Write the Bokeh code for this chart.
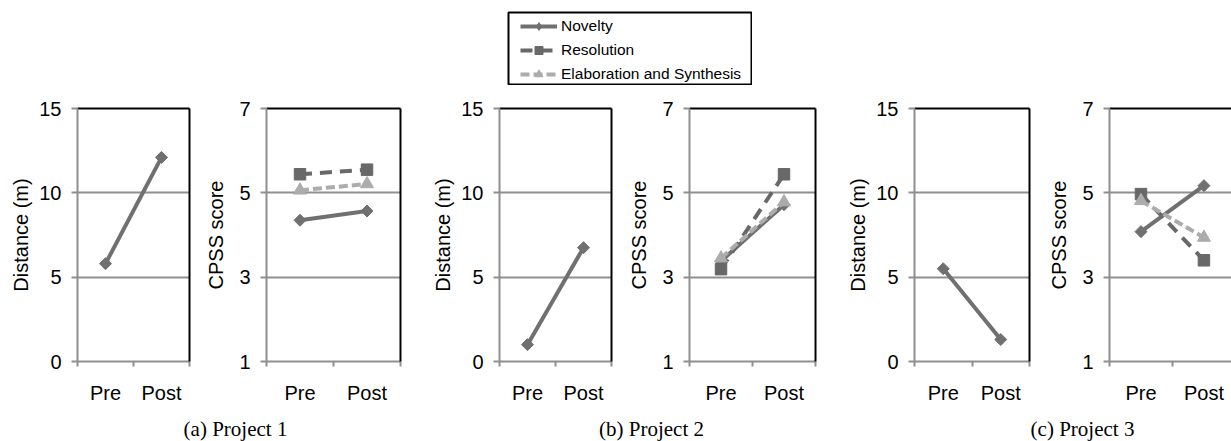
import math
from bokeh.plotting import figure
from bokeh.models import (Range1d, LinearAxis, FixedTicker, Legend, LegendItem,
                          Label, Spacer, ColumnDataSource)
from bokeh.layouts import row, column
from bokeh.embed import file_html
from bokeh.resources import INLINE

# ---------------- data ----------------
stages = ["Pre", "Post"]
captions = ["(a) Project 1", "(b) Project 2", "(c) Project 3"]
distance = [[5.8, 12.1], [1.0, 6.75], [5.5, 1.3]]
novelty = [[4.35, 4.57], [3.38, 4.72], [4.08, 5.17]]
resolution = [[5.44, 5.55], [3.19, 5.44], [4.97, 3.40]]
elaboration = [[5.06, 5.21], [3.45, 4.78], [4.81, 3.94]]
series_names = ["Novelty", "Resolution", "Elaboration and Synthesis"]
dist_ticks = [0, 5, 10, 15]
cpss_ticks = [1, 3, 5, 7]

# ---------------- styles ----------------
AX = "#8f8f8f"
FONT = "Liberation Sans"
styles = [
    dict(color="#707070", dash="solid", marker="square", size=8.5, angle=math.pi / 4,
         legend_marker="diamond", legend_size=12),
    dict(color="#686868", dash="12 8", marker="square", size=11.5, angle=0,
         legend_marker="square", legend_size=11),
    dict(color="#acacac", dash="9 4", marker="triangle", size=13, angle=0,
         legend_marker="triangle", legend_size=11),
]
xpos = [i + 0.5 for i in range(len(stages))]


def panel(width, left, right, x_end, ylo, yhi, yticks, ylabel, lab_standoff, right_border=True):
    p = figure(width=width, height=326, min_border_left=left, min_border_right=right,
               min_border_top=23, min_border_bottom=50,
               x_range=Range1d(0, x_end), y_range=Range1d(ylo, yhi),
               output_backend="svg", toolbar_location=None, outline_line_color=None)
    p.background_fill_color = "white"
    p.border_fill_color = "white"
    ya = p.yaxis[0]
    ya.ticker = FixedTicker(ticks=yticks)
    ya.minor_tick_line_color = None
    ya.axis_line_color = AX
    ya.axis_line_width = 2
    ya.major_tick_line_color = AX
    ya.major_tick_line_width = 2
    ya.major_tick_out = 6
    ya.major_tick_in = 0
    ya.major_label_standoff = 10
    ya.major_label_text_font = FONT
    ya.major_label_text_font_size = "20px"
    ya.major_label_text_color = "black"
    ya.axis_label = ylabel
    ya.axis_label_text_font = FONT
    ya.axis_label_text_font_size = "20px"
    ya.axis_label_text_font_style = "normal"
    ya.axis_label_text_color = "black"
    ya.axis_label_standoff = lab_standoff

    xa = p.xaxis[0]
    xa.ticker = FixedTicker(ticks=xpos, minor_ticks=list(range(len(stages) + 1)))
    xa.major_label_overrides = {x: s for x, s in zip(xpos, stages)}
    xa.major_tick_line_color = None
    xa.major_tick_out = 0
    xa.major_tick_in = 0
    xa.minor_tick_line_color = AX
    xa.minor_tick_line_width = 2
    xa.minor_tick_out = 5
    xa.minor_tick_in = 0
    xa.axis_line_color = AX
    xa.axis_line_width = 2
    xa.major_label_standoff = 15
    xa.major_label_text_font = FONT
    xa.major_label_text_font_size = "20px"
    xa.major_label_text_color = "black"

    p.xgrid.visible = False
    p.ygrid.ticker = FixedTicker(ticks=yticks)
    p.ygrid.grid_line_color = AX
    p.ygrid.grid_line_width = 2

    top = LinearAxis(ticker=FixedTicker(ticks=[]), axis_line_color="black", axis_line_width=2,
                     major_tick_out=0, major_tick_in=0, minor_tick_out=0, minor_tick_in=0,
                     major_label_text_font_size="0px")
    p.add_layout(top, "above")
    if right_border:
        rgt = LinearAxis(ticker=FixedTicker(ticks=[]), axis_line_color="black", axis_line_width=2,
                         major_tick_out=0, major_tick_in=0, minor_tick_out=0, minor_tick_in=0,
                         major_label_text_font_size="0px")
        p.add_layout(rgt, "right")
    return p


def draw_series(p, values, st, legend=False):
    src = ColumnDataSource(dict(x=xpos, y=values))
    r1 = p.line("x", "y", source=src, line_color=st["color"], line_width=4,
                line_dash=st["dash"])
    if legend:
        r2 = p.scatter("x", "y", source=src, marker=st["legend_marker"], size=st["legend_size"],
                       fill_color=st["color"], line_color=st["color"])
    else:
        r2 = p.scatter("x", "y", source=src, marker=st["marker"], size=st["size"],
                       angle=st["angle"], fill_color=st["color"], line_color=st["color"])
    return [r1, r2]


# frame geometry: (figure width, left border, right border, x_end)
dist_geo = [(200, 77, 11, 2), (200, 79, 9, 2), (205, 74, 16, 2)]
cpss_geo = [(220, 66, 20, 2), (220, 69, 25, 2), (186, 62, 0, 124 / 64)]

figs = []
for k in range(3):
    w, l, r, xe = dist_geo[k]
    pd_ = panel(w, l, r, xe, 0, 15, dist_ticks, "Distance (m)", 4)
    draw_series(pd_, distance[k], styles[0])
    figs.append(pd_)
    w, l, r, xe = cpss_geo[k]
    pc = panel(w, l, r, xe, 1, 7, cpss_ticks, "CPSS score", 9, right_border=(k < 2))
    for vals, st in zip([novelty[k], resolution[k], elaboration[k]], styles):
        draw_series(pc, vals, st)
    figs.append(pc)

# ---------------- legend figure ----------------
lg = figure(width=245, height=74, min_border_left=1, min_border_right=1, min_border_top=1,
            min_border_bottom=1, x_range=Range1d(10, 11), y_range=Range1d(0, 1),
            output_backend="svg", toolbar_location=None, x_axis_location=None,
            y_axis_location=None, outline_line_color="black", outline_line_width=2)
lg.xgrid.visible = False
lg.ygrid.visible = False
items = []
for vals, st, nm in zip([novelty[0], resolution[0], elaboration[0]], styles, series_names):
    rs = draw_series(lg, vals, st, legend=True)
    items.append(LegendItem(label=nm, renderers=rs))
leg = Legend(items=items, location=(12, 0), margin=0, padding=2, spacing=4,
             glyph_width=37, glyph_height=20, label_height=20, label_standoff=4,
             label_text_font=FONT, label_text_font_size="15.5px", label_text_color="black",
             border_line_color=None, background_fill_alpha=0)
lg.add_layout(leg, "center")

# ---------------- caption figure ----------------
cap = figure(width=1231, height=31, min_border=0, x_range=Range1d(0, 1231),
             y_range=Range1d(0, 31), output_backend="svg", toolbar_location=None,
             x_axis_location=None, y_axis_location=None, outline_line_color=None)
cap.xgrid.visible = False
cap.ygrid.visible = False
caption_x = [235, 651, 1082]
for cx, txt in zip(caption_x, captions):
    cap.add_layout(Label(x=cx, y=14, text=txt, text_align="center", text_baseline="middle",
                         text_font="Liberation Serif", text_font_size="21px",
                         text_color="black"))

layout = column(
    Spacer(width=1231, height=11),
    row(Spacer(width=507, height=74), lg),
    row(*figs),
    cap,
)

open("out.html", "w").write(file_html(layout, INLINE))
